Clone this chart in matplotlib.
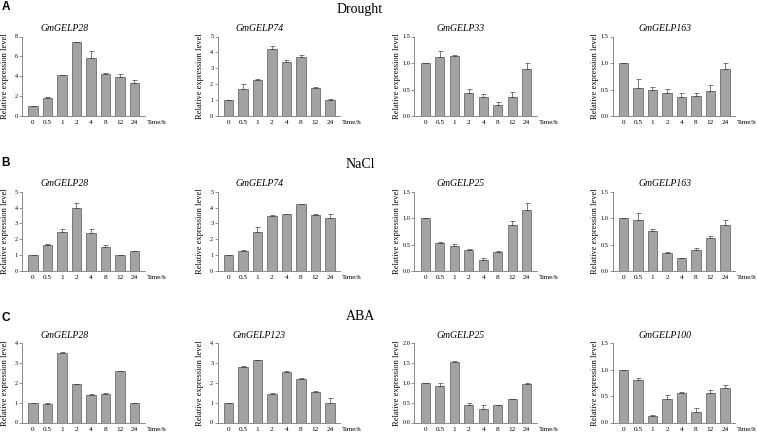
import numpy as np
import matplotlib
matplotlib.use('Agg')
import matplotlib.pyplot as plt
from matplotlib.ticker import FormatStrFormatter

times = ['0', '0.5', '1', '2', '4', '8', '12', '24']
treatments = ['Drought', 'NaCl', 'ABA']
letters = ['A', 'B', 'C']

genes = [['GmGELP28', 'GmGELP74', 'GmGELP33', 'GmGELP163'],
         ['GmGELP28', 'GmGELP74', 'GmGELP25', 'GmGELP163'],
         ['GmGELP28', 'GmGELP123', 'GmGELP25', 'GmGELP100']]

# mean relative expression, one list per panel
drought_mean = [[1.0, 1.82, 4.12, 7.43, 5.87, 4.2, 3.88, 3.32],
                [1.0, 1.7, 2.27, 4.2, 3.42, 3.7, 1.76, 1.0],
                [1.0, 1.11, 1.14, 0.44, 0.35, 0.2, 0.35, 0.88],
                [1.0, 0.53, 0.5, 0.44, 0.36, 0.375, 0.48, 0.88]]
drought_err = [[0.0, 0.05, 0.05, 0.05, 0.66, 0.08, 0.3, 0.28],
               [0.0, 0.3, 0.05, 0.2, 0.12, 0.12, 0.08, 0.05],
               [0.0, 0.11, 0.02, 0.07, 0.07, 0.06, 0.11, 0.12],
               [0.0, 0.17, 0.04, 0.07, 0.08, 0.05, 0.11, 0.12]]

nacl_mean = [[1.0, 1.64, 2.44, 3.95, 2.4, 1.51, 1.0, 1.26],
             [1.0, 1.26, 2.44, 3.47, 3.57, 4.2, 3.53, 3.32],
             [1.0, 0.54, 0.47, 0.4, 0.21, 0.37, 0.88, 1.16],
             [1.0, 0.96, 0.75, 0.34, 0.24, 0.4, 0.62, 0.88]]
nacl_err = [[0.0, 0.05, 0.2, 0.37, 0.25, 0.13, 0.05, 0.02],
            [0.0, 0.05, 0.36, 0.05, 0.02, 0.05, 0.06, 0.25],
            [0.0, 0.02, 0.04, 0.01, 0.04, 0.01, 0.06, 0.12],
            [0.0, 0.13, 0.05, 0.03, 0.01, 0.03, 0.05, 0.09]]

aba_mean = [[1.0, 0.91, 3.5, 1.93, 1.36, 1.44, 2.57, 0.96],
            [1.0, 2.79, 3.12, 1.43, 2.55, 2.18, 1.55, 0.96],
            [1.0, 0.93, 1.51, 0.44, 0.35, 0.44, 0.58, 0.97],
            [1.0, 0.8, 0.13, 0.44, 0.55, 0.2, 0.55, 0.65]]
aba_err = [[0.0, 0.09, 0.03, 0.02, 0.05, 0.03, 0.03, 0.03],
           [0.0, 0.03, 0.02, 0.07, 0.02, 0.07, 0.05, 0.28],
           [0.0, 0.07, 0.03, 0.04, 0.08, 0.01, 0.02, 0.03],
           [0.0, 0.04, 0.01, 0.07, 0.03, 0.07, 0.06, 0.05]]

# y axis: (max, step)
yscales = [[(8, 2), (5, 1), (1.5, 0.5), (1.5, 0.5)],
           [(5, 1), (5, 1), (1.5, 0.5), (1.5, 0.5)],
           [(4, 1), (4, 1), (2.0, 0.5), (1.5, 0.5)]]

means = [drought_mean, nacl_mean, aba_mean]
errs = [drought_err, nacl_err, aba_err]

W, H = 758, 433
fig = plt.figure(figsize=(W / 100, H / 100), dpi=100)

col_left = [22, 217.5, 414.4, 612.6]
ax_w = 122.5
row_top = [36.5, 191.7, 343]
ax_h = 79.5
title_x = [0.35, 0.34, 0.38, 0.43]
head_y = [10, 164, 317]
letter_y = [7, 163, 318]

serif = 'Liberation Serif'
bar_col = '#a3a3a3'
edge_col = '#5a5a5a'
x = np.arange(len(times))

for r in range(3):
    fig.text(360 / W, 1 - head_y[r] / H, treatments[r], family=serif,
             fontsize=10, ha='center', va='center')
    fig.text(6 / W, 1 - letter_y[r] / H, letters[r], family='Liberation Sans',
             fontweight='bold', fontsize=8.5, ha='center', va='center')
    for c in range(4):
        ax = fig.add_axes([col_left[c] / W, 1 - (row_top[r] + ax_h) / H,
                           ax_w / W, ax_h / H])
        m = means[r][c]
        e = errs[r][c]
        ax.bar(x, m, width=0.65, color=bar_col, edgecolor=edge_col,
               linewidth=0.5, zorder=2)
        ax.errorbar(x, m, yerr=[np.zeros(len(e)), e], fmt='none',
                    ecolor='#444444', elinewidth=0.5, capsize=1.8,
                    capthick=0.5, zorder=3)
        ymax, step = yscales[r][c]
        ax.set_xlim(-0.75, 7.7)
        ax.set_ylim(0, ymax)
        ax.set_yticks(np.arange(0, ymax + step / 2, step))
        if step < 1:
            ax.yaxis.set_major_formatter(FormatStrFormatter('%.1f'))
        else:
            ax.yaxis.set_major_formatter(FormatStrFormatter('%d'))
        ax.set_xticks(x)
        ax.set_xticklabels(times, family=serif, fontsize=5.2)
        for lab in ax.get_yticklabels():
            lab.set_family(serif)
            lab.set_fontsize(4.5)
        ax.tick_params(axis='x', length=0, pad=3)
        ax.tick_params(axis='y', length=2, width=0.5, pad=1,
                       color='#666666')
        for s in ['top', 'right']:
            ax.spines[s].set_visible(False)
        for s in ['left', 'bottom']:
            ax.spines[s].set_linewidth(0.6)
            ax.spines[s].set_color('#777777')
        ax.set_ylabel('Relative expression level', family=serif, fontsize=6)
        ax.yaxis.set_label_coords(-0.11, 0.5)
        ax.text(title_x[c], 1 + 8 / ax_h, genes[r][c], transform=ax.transAxes,
                family=serif, style='italic', fontsize=7, ha='center',
                va='center')
        ax.annotate('Time/h', xy=(1.0, 0), xycoords='axes fraction',
                    xytext=(1.5, -3), textcoords='offset points',
                    family=serif, fontsize=5, ha='left', va='top')

fig.savefig('out.png', dpi=100)
